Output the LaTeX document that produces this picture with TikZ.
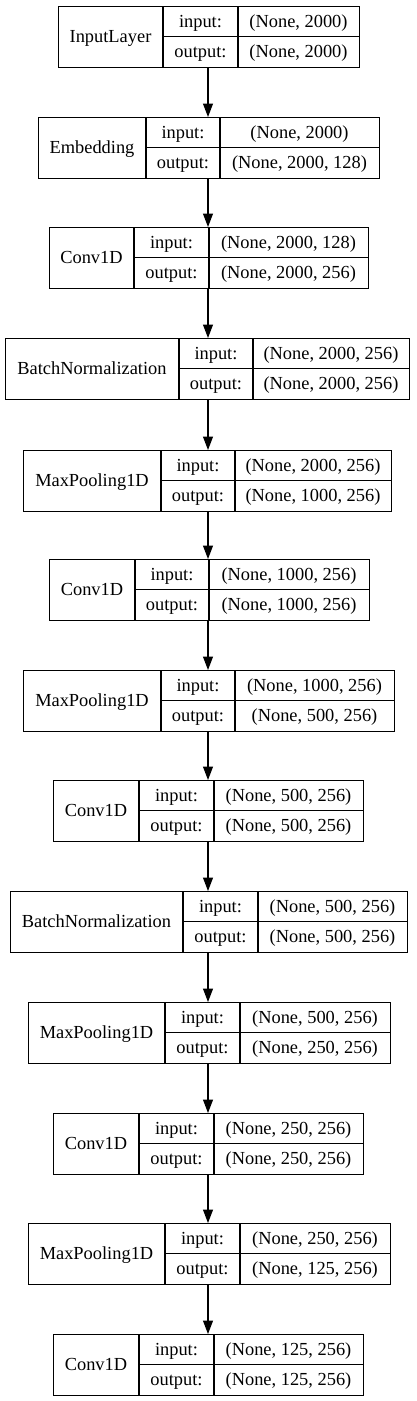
\documentclass[tikz,border=0pt]{standalone}
\usepackage{fontspec}
\setmainfont{Liberation Serif}
\usetikzlibrary{arrows.meta}
\tikzset{
  lbox/.style={draw=black, line width=1.2pt, inner sep=0pt, anchor=north west, fill=white},
  divl/.style={draw=black, line width=1.2pt},
  txt/.style={anchor=base, inner sep=0pt, font=\fontsize{18.4}{22}\selectfont},
  arr/.style={draw=black, line width=1.2pt, -{Triangle[length=13.5pt,width=10pt]}}
}
% name, top, left, d1, d2, right, label, in, out
\newcommand{\klayer}[9]{%
  \node[lbox, minimum width={(#6-#3)*1pt}, minimum height=61pt] (#1) at (#3,#2) {};
  \draw[divl] (#4,#2) -- (#4,{#2+61});
  \draw[divl] (#5,#2) -- (#5,{#2+61});
  \draw[divl] (#4,{#2+30.5}) -- (#6,{#2+30.5});
  \node[txt] (#1-l) at ({(#3+#4)/2},{#2+36.7}) {#7};
  \node[txt] (#1-ik) at ({(#4+#5)/2},{#2+21.3}) {input:};
  \node[txt] (#1-ok) at ({(#4+#5)/2},{#2+51.8}) {output:};
  \node[txt] (#1-iv) at ({(#5+#6)/2},{#2+21.3}) {#8};
  \node[txt] (#1-ov) at ({(#5+#6)/2},{#2+51.8}) {#9};
}
\begin{document}
\begin{tikzpicture}[x=1pt,y=-1pt]
\useasboundingbox (0,0) rectangle (417,1401);
\coordinate (ax) at (208,0);
\klayer{l1}{6}{58}{163}{238}{359}{InputLayer}{(None, 2000)}{(None, 2000)}
\klayer{l2}{117}{38}{146}{220}{379}{Embedding}{(None, 2000)}{(None, 2000, 128)}
\klayer{l3}{227}{49}{134}{209}{368}{Conv1D}{(None, 2000, 128)}{(None, 2000, 256)}
\klayer{l4}{338}{5}{179}{253}{409}{BatchNormalization}{(None, 2000, 256)}{(None, 2000, 256)}
\klayer{l5}{450}{23}{161}{235}{391}{MaxPooling1D}{(None, 2000, 256)}{(None, 1000, 256)}
\klayer{l6}{559}{49}{135}{209}{369}{Conv1D}{(None, 1000, 256)}{(None, 1000, 256)}
\klayer{l7}{670}{23}{161}{235}{394}{MaxPooling1D}{(None, 1000, 256)}{(None, 500, 256)}
\klayer{l8}{780}{53}{139}{214}{363}{Conv1D}{(None, 500, 256)}{(None, 500, 256)}
\klayer{l9}{891}{10}{183}{258}{407}{BatchNormalization}{(None, 500, 256)}{(None, 500, 256)}
\klayer{l10}{1002}{28}{165}{240}{390}{MaxPooling1D}{(None, 500, 256)}{(None, 250, 256)}
\klayer{l11}{1113}{53}{139}{214}{363}{Conv1D}{(None, 250, 256)}{(None, 250, 256)}
\klayer{l12}{1223}{28}{165}{240}{390}{MaxPooling1D}{(None, 250, 256)}{(None, 125, 256)}
\klayer{l13}{1334}{53}{139}{214}{363}{Conv1D}{(None, 125, 256)}{(None, 125, 256)}
\foreach \a/\b in {l1/l2,l2/l3,l3/l4,l4/l5,l5/l6,l6/l7,l7/l8,l8/l9,l9/l10,l10/l11,l11/l12,l12/l13}
  \draw[arr] (ax |- \a.south) -- (ax |- \b.north);
\end{tikzpicture}
\end{document}
